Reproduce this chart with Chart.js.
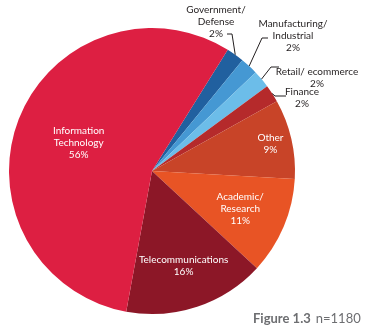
<!DOCTYPE html>
<html>
<head>
<meta charset="utf-8">
<title>Industry breakdown</title>
<script src="https://cdn.jsdelivr.net/npm/chart.js@4.4.1/dist/chart.umd.min.js"></script>
<style>
    html, body { margin: 0; padding: 0; background: #ffffff; }
    #wrap { position: relative; width: 372px; height: 329px; }
</style>
</head>
<body>
<div id="wrap"><canvas id="myChart" width="372" height="329"></canvas></div>
<script>
// slices, clockwise from the Government/Defense wedge
const categories = ["Government/\nDefense", "Manufacturing/\nIndustrial", "Retail/ ecommerce", "Finance", "Other", "Academic/\nResearch", "Telecommunications", "Information\nTechnology"];
const shares = [2, 2, 2, 2, 9, 11, 16, 56];
const sliceColors = ["#21609f", "#4598d3", "#6cbde9", "#b52a2b", "#c84428", "#e85425", "#8c1727", "#dd1f42"];

// where each label goes: inside slices use a fraction of the radius,
// small slices get a text spot plus an elbowed leader line
const labelSpots = [
    { outside: true, x: 216, y: 10, elbow: [232, 34], end: [227, 34] },
    { outside: true, x: 293, y: 24, elbow: [262, 38], end: [268, 38] },
    { outside: true, x: 317, y: 72, elbow: [271, 67], end: [279, 67] },
    { outside: true, x: 302, y: 92, elbow: [275, 96], end: [286, 96] },
    { outside: false, r: 0.85 },
    { outside: false, r: 0.67 },
    { outside: false, r: 0.7 },
    { outside: false, r: 0.55 }
];

const labelFont = "10px Lato, 'Open Sans', sans-serif";
const lineGap = 12;

// draws the slice names, percentages and leader lines
const sliceLabels = {
    id: "sliceLabels",
    afterDatasetsDraw(chart) {
        const ctx = chart.ctx;
        const arcs = chart.getDatasetMeta(0).data;
        ctx.save();
        ctx.font = labelFont;
        ctx.textAlign = "center";
        ctx.textBaseline = "middle";

        arcs.forEach((arc, i) => {
            const p = arc.getProps(["x", "y", "startAngle", "endAngle", "outerRadius"], true);
            const mid = (p.startAngle + p.endAngle) / 2;
            const lines = categories[i].split("\n").concat(shares[i] + "%");
            const spot = labelSpots[i];

            if (spot.outside) {
                const ex = p.x + Math.cos(mid) * p.outerRadius;
                const ey = p.y + Math.sin(mid) * p.outerRadius;
                ctx.strokeStyle = "#231f20";
                ctx.lineWidth = 1;
                ctx.beginPath();
                ctx.moveTo(ex, ey);
                ctx.lineTo(spot.elbow[0], spot.elbow[1]);
                ctx.lineTo(spot.end[0], spot.end[1]);
                ctx.stroke();

                ctx.fillStyle = "#231f20";
                lines.forEach((t, k) => ctx.fillText(t, spot.x, spot.y + k * lineGap));
            } else {
                const cx = p.x + Math.cos(mid) * p.outerRadius * spot.r;
                const cy = p.y + Math.sin(mid) * p.outerRadius * spot.r;
                const top = cy - (lines.length - 1) * lineGap / 2;
                ctx.fillStyle = "#ffffff";
                lines.forEach((t, k) => ctx.fillText(t, cx, top + k * lineGap));
            }
        });

        // figure caption, bottom right
        ctx.textAlign = "left";
        ctx.textBaseline = "alphabetic";
        ctx.fillStyle = "#6d6e71";
        ctx.font = "bold 13px Lato, 'Open Sans', sans-serif";
        ctx.fillText("Figure 1.3", 253, 323);
        const w = ctx.measureText("Figure 1.3").width;
        ctx.font = "13px Lato, 'Open Sans', sans-serif";
        ctx.fillText("n=1180", 253 + w + 5, 323);
        ctx.restore();
    }
};

function start() {
    const ctx = document.getElementById("myChart").getContext("2d");
    new Chart(ctx, {
        type: "pie",
        data: {
            labels: categories,
            datasets: [{
                data: shares,
                backgroundColor: sliceColors,
                borderWidth: 0
            }]
        },
        options: {
            responsive: false,
            animation: false,
            rotation: 32,
            layout: {
                padding: { left: 9, top: 28, right: 77, bottom: 15 }
            },
            plugins: {
                legend: { display: false },
                tooltip: { enabled: false }
            }
        },
        plugins: [sliceLabels]
    });
}

window.addEventListener("load", start, false);
</script>
</body>
</html>
